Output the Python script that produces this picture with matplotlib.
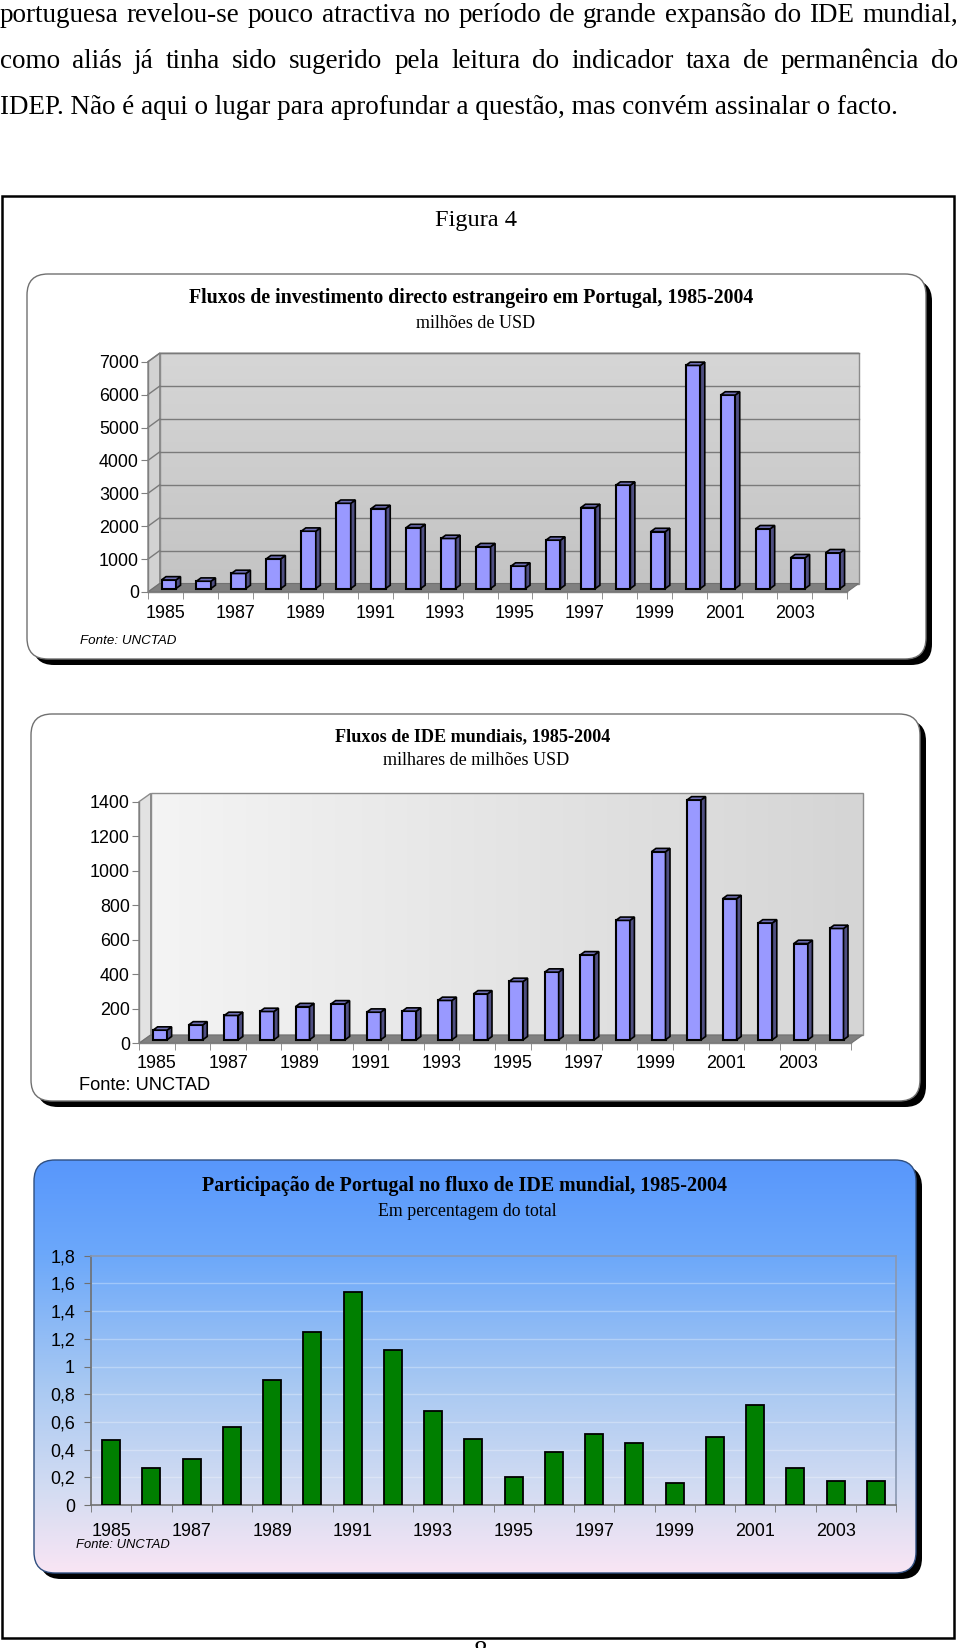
import numpy as np
import matplotlib
matplotlib.use("Agg")
import matplotlib.pyplot as plt
from matplotlib.patches import FancyBboxPatch, Polygon, Rectangle
from matplotlib.colors import LinearSegmentedColormap

# ---------------- data ----------------
years = list(range(1985, 2005))
year_labels = [str(y) for y in years[::2]]

portugal_fdi = [260, 222, 456, 903, 1742, 2590, 2430, 1850, 1520, 1270,
                680, 1470, 2460, 3140, 1730, 6780, 5880, 1815, 935, 1085]
world_fdi = [56, 86, 141, 164, 192, 208, 160, 166, 228, 266,
             338, 392, 492, 692, 1090, 1390, 818, 677, 558, 645]
portugal_share = [0.47, 0.27, 0.33, 0.56, 0.90, 1.25, 1.54, 1.12, 0.68, 0.48,
                  0.20, 0.38, 0.51, 0.45, 0.16, 0.49, 0.72, 0.27, 0.17, 0.17]

portugal_ticks = list(range(0, 7001, 1000))
world_ticks = list(range(0, 1401, 200))
share_ticks = [0, 0.2, 0.4, 0.6, 0.8, 1.0, 1.2, 1.4, 1.6, 1.8]
share_tick_labels = ["0", "0,2", "0,4", "0,6", "0,8", "1", "1,2", "1,4", "1,6", "1,8"]

body_lines = [
    "portuguesa revelou-se pouco atractiva no período de grande expansão do IDE mundial,",
    "como aliás já tinha sido sugerido pela leitura do indicador taxa de permanência do",
    "IDEP. Não é aqui o lugar para aprofundar a questão, mas convém assinalar o facto.",
]
figure_label = "Figura 4"
title1 = "Fluxos de investimento directo estrangeiro em Portugal, 1985-2004"
subtitle1 = "milhões de USD"
title2 = "Fluxos de IDE mundiais, 1985-2004"
subtitle2 = "milhares de milhões USD"
title3 = "Participação de Portugal no fluxo de IDE mundial, 1985-2004"
subtitle3 = "Em percentagem do total"
source = "Fonte: UNCTAD"

# ---------------- figure ----------------
W, H, DPI = 960, 1648, 100
plt.rcParams["font.family"] = ["Liberation Sans", "DejaVu Sans"]
fig = plt.figure(figsize=(W / DPI, H / DPI), dpi=DPI)
bg = fig.add_axes([0, 0, 1, 1])
bg.set_xlim(0, W)
bg.set_ylim(H, 0)
bg.axis("off")
fig.canvas.draw()
R = fig.canvas.get_renderer()

SERIF = ["Liberation Serif", "DejaVu Serif"]


def fit_width(t, target):
    bb = t.get_window_extent(R)
    t.set_fontsize(t.get_fontsize() * target / bb.width)
    return t


def ptext(x, y, s, target=None, **kw):
    t = bg.text(x, y, s, **kw)
    if target:
        fit_width(t, target)
    return t


# ---- body text (justified) ----
t3 = ptext(0, 113.5, body_lines[2], target=899, family=SERIF, fontsize=16,
           va="baseline", ha="left")
fs_body = t3.get_fontsize()
for line, base in zip(body_lines[:2], [22, 67.5]):
    words = line.split(" ")
    arts = [bg.text(0, base, w, family=SERIF, fontsize=fs_body, va="baseline", ha="left")
            for w in words]
    widths = [a.get_window_extent(R).width for a in arts]
    gap = (958 - sum(widths)) / (len(words) - 1)
    x = 0
    for a, wd in zip(arts, widths):
        a.set_x(x)
        x += wd + gap

# ---- outer frame ----
bg.add_patch(Rectangle((1.5, 196), 952, 1442, fill=False, ec="black", lw=1.8))
ptext(476, 220, figure_label, target=82, family=SERIF, fontsize=16, ha="center", va="center")
bg.text(481, 1640, "8", family=SERIF, fontsize=fs_body, ha="center", va="top")


def chart_box(x0, y0, x1, y1, r, fc, ec, lw=1.0, shadow=6):
    sh = FancyBboxPatch((x0 + shadow, y0 + shadow), x1 - x0, y1 - y0,
                        boxstyle=f"round,pad=0,rounding_size={r}", fc="black", ec="none", zorder=1)
    bg.add_patch(sh)
    bx = FancyBboxPatch((x0, y0), x1 - x0, y1 - y0,
                        boxstyle=f"round,pad=0,rounding_size={r}", fc=fc, ec=ec, lw=lw, zorder=2)
    bg.add_patch(bx)
    return bx


chart_box(27, 274, 926, 659, 21, "white", "#707070")
chart_box(31, 714, 920, 1101, 21, "white", "#707070")
box3 = chart_box(34, 1160, 916, 1573, 21, "none", "#2F4F80")
grad_cmap = LinearSegmentedColormap.from_list(
    "bgrad", [(0, "#5897FC"), (0.23, "#6CA8FA"), (0.55, "#A9C9F2"), (0.8, "#D3DCF2"), (1, "#F9E5F4")])
im = bg.imshow(np.linspace(0, 1, 256).reshape(-1, 1), extent=(34, 916, 1573, 1160),
               cmap=grad_cmap, aspect="auto", zorder=1.5)
im.set_clip_path(box3)
bg.set_xlim(0, W)
bg.set_ylim(H, 0)

# titles
ptext(471.5, 298, title1, target=563, family=SERIF, weight="bold", fontsize=13, ha="center", va="center", zorder=5)
ptext(475.5, 323, subtitle1, target=119, family=SERIF, fontsize=12, ha="center", va="center", zorder=5)
ptext(473, 737, title2, target=273.5, family=SERIF, weight="bold", fontsize=13, ha="center", va="center", zorder=5)
ptext(476, 760, subtitle2, target=186, family=SERIF, fontsize=12, ha="center", va="center", zorder=5)
ptext(465, 1186.5, title3, target=526, family=SERIF, weight="bold", fontsize=14, ha="center", va="center", zorder=5)
ptext(467, 1211, subtitle3, target=178, family=SERIF, fontsize=12, ha="center", va="center", zorder=5)

# sources
ptext(80, 641, source, target=97, fontsize=9.5, style="italic", ha="left", va="center", zorder=5)
ptext(79, 1085.5, source, target=131, fontsize=13, ha="left", va="center", zorder=5)
ptext(76, 1545.5, source, target=94, fontsize=9.5, style="italic", ha="left", va="center", zorder=5)


def add_px_axes(left, top, right, bottom):
    ax = fig.add_axes([left / W, 1 - bottom / H, (right - left) / W, (bottom - top) / H])
    ax.patch.set_alpha(0)
    return ax


TICK_FS = 12.9


def chart3d(ax, values, ticks, wall, side_fc, grid, depth=(11.7, 8.5),
            front=(3.3, 3.5), bdepth=(4.5, 3.3), bar_px=14.5, xpad=9.3):
    n = len(values)
    ymax = ticks[-1]
    pos = ax.get_position()
    sx = pos.width * W / n
    sy = pos.height * H / ymax
    ddx, ddy = depth[0] / sx, depth[1] / sy
    fdx, fdy = front[0] / sx, front[1] / sy
    bdx, bdy = bdepth[0] / sx, bdepth[1] / sy
    bw = bar_px / sx
    # back wall gradient
    wall_im = ax.imshow(wall[0], extent=(ddx, n + ddx, ddy, ymax + ddy), cmap=wall[1],
                        aspect="auto", zorder=0, vmin=0, vmax=1)
    wall_im.set_clip_on(False)
    ax.add_patch(Rectangle((ddx, ddy), n, ymax, fill=False, ec="#8C8C8C", lw=1.0,
                           clip_on=False, zorder=0.5))
    # side wall
    ax.add_patch(Polygon([(0, 0), (ddx, ddy), (ddx, ymax + ddy), (0, ymax)], closed=True,
                         fc=side_fc, ec="#8C8C8C", lw=1.0, clip_on=False, zorder=0.6))
    if grid:
        for t in ticks[1:]:
            ax.plot([ddx, n + ddx], [t + ddy, t + ddy], color="#7A7A7A", lw=1.0,
                    clip_on=False, zorder=0.7)
            ax.plot([0, ddx], [t, t + ddy], color="#7A7A7A", lw=1.0, clip_on=False, zorder=0.7)
    # floor
    ax.add_patch(Polygon([(0, 0), (n, 0), (n + ddx, ddy), (ddx, ddy)], closed=True,
                         fc="#808080", ec="#707070", lw=0.8, clip_on=False, zorder=1))
    # bars
    centers = np.arange(n) + 0.5
    bars = ax.bar(centers + fdx, values, width=bw, bottom=fdy, color="#9999FF",
                  edgecolor="black", linewidth=1.5, zorder=3)
    for b, v in zip(bars, values):
        b.set_clip_on(False)
        x0 = b.get_x()
        x1 = x0 + b.get_width()
        top = v + fdy
        ax.add_patch(Polygon([(x1, fdy), (x1 + bdx, fdy + bdy), (x1 + bdx, top + bdy), (x1, top)],
                             closed=True, fc="#4F4F82", ec="black", lw=1.2, clip_on=False, zorder=3))
        ax.add_patch(Polygon([(x0, top), (x1, top), (x1 + bdx, top + bdy), (x0 + bdx, top + bdy)],
                             closed=True, fc="#6E6EB4", ec="black", lw=1.2, clip_on=False, zorder=3))
    ax.set_xlim(0, n)
    ax.set_ylim(0, ymax)
    for s in ["top", "right"]:
        ax.spines[s].set_visible(False)
    for s in ["left", "bottom"]:
        ax.spines[s].set_color("#808080")
        ax.spines[s].set_linewidth(1.0)
        ax.spines[s].set_zorder(2)
    ax.set_yticks(ticks)
    ax.set_yticklabels([str(t) for t in ticks])
    ax.set_xticks(centers[::2])
    ax.set_xticklabels(year_labels)
    ax.set_xticks(np.arange(n + 1), minor=True)
    ax.tick_params(axis="y", length=5, color="#808080", pad=1.5, labelsize=TICK_FS)
    ax.tick_params(axis="x", which="major", length=0, pad=xpad, labelsize=TICK_FS)
    ax.tick_params(axis="x", which="minor", length=5, color="#808080")


# chart 1
ax1 = add_px_axes(148, 361.7, 847, 592)
wall1 = (np.linspace(0, 1, 128).reshape(-1, 1),
         LinearSegmentedColormap.from_list("w1", ["#D6D6D6", "#C4C4C4"]))
chart3d(ax1, portugal_fdi, portugal_ticks, wall1, "#D2D2D2", grid=True, xpad=9.3)

# chart 2
ax2 = add_px_axes(139, 801.7, 851, 1043.3)
wall2 = (np.linspace(0, 1, 128).reshape(1, -1),
         LinearSegmentedColormap.from_list("w2", ["#F4F4F4", "#D5D5D5"]))
chart3d(ax2, world_fdi, world_ticks, wall2, "#E2E2E2", grid=False, depth=(11.7, 8.3),
        bar_px=14, xpad=8.6)

# chart 3
ax3 = add_px_axes(91, 1255.7, 896, 1505)
n3 = len(portugal_share)
c3 = np.arange(n3) + 0.5
for t in share_ticks[1:-1]:
    ax3.axhline(t, color="white", alpha=0.3, lw=1.0, zorder=1)
ax3.bar(c3, portugal_share, width=0.45, color="#007F00", edgecolor="black", linewidth=1.3, zorder=3)
ax3.set_xlim(0, n3)
ax3.set_ylim(0, 1.8)
for s in ["top", "right"]:
    ax3.spines[s].set_color("#8A98B0")
    ax3.spines[s].set_linewidth(1.2)
for s in ["left", "bottom"]:
    ax3.spines[s].set_color("#707070")
    ax3.spines[s].set_linewidth(1.2)
ax3.set_yticks(share_ticks)
ax3.set_yticklabels(share_tick_labels)
ax3.set_xticks(c3[::2])
ax3.set_xticklabels(year_labels)
ax3.set_xticks(np.arange(n3 + 1), minor=True)
ax3.tick_params(axis="y", length=5, color="#707070", pad=6.5, labelsize=TICK_FS)
ax3.tick_params(axis="x", which="major", length=0, pad=13, labelsize=TICK_FS)
ax3.tick_params(axis="x", which="minor", length=5, color="#707070")

fig.savefig("out.png", dpi=DPI)
